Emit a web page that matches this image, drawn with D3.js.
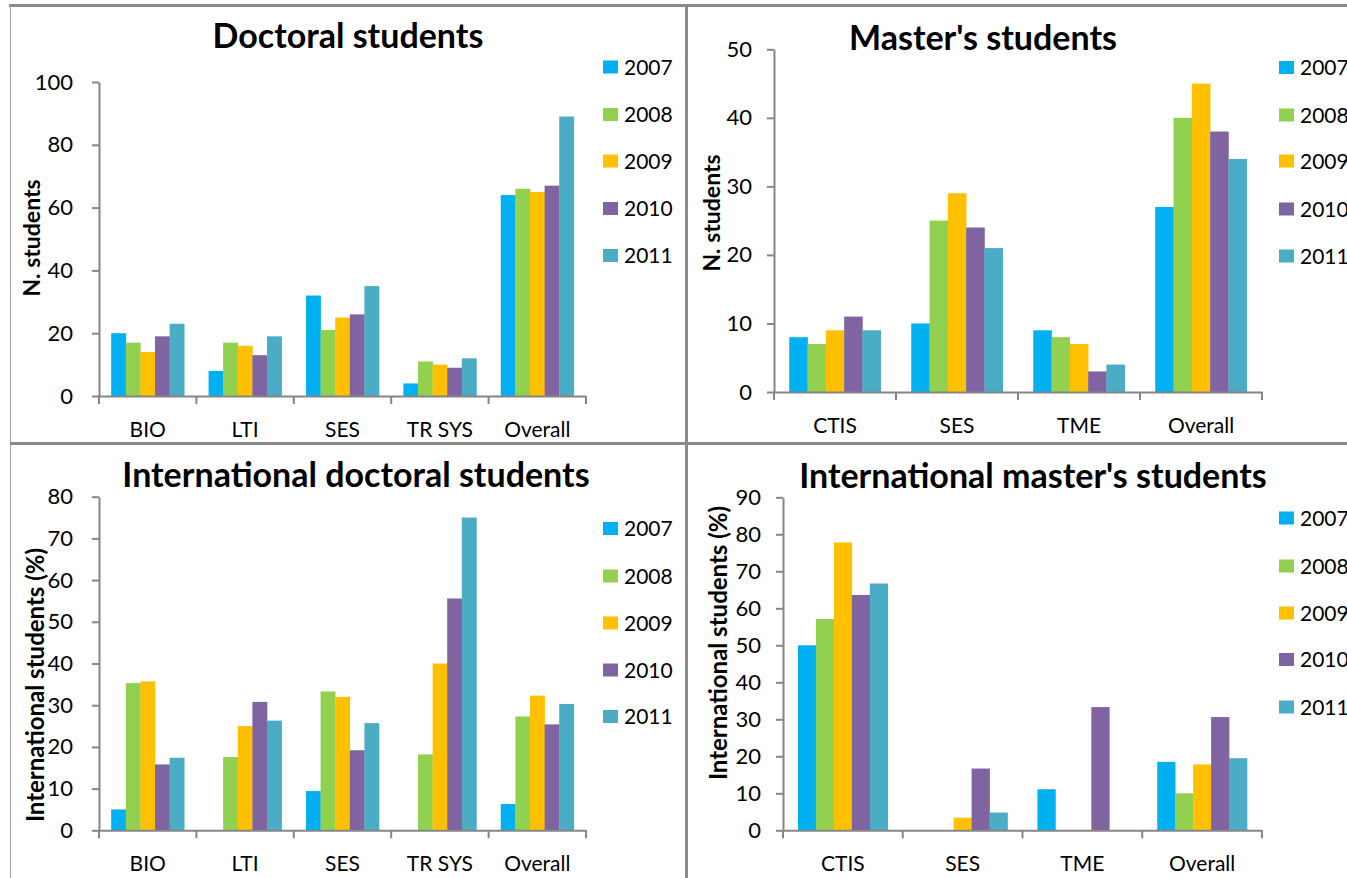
<!DOCTYPE html>
<html>
<head>
<meta charset="utf-8">
<script src="https://cdn.jsdelivr.net/npm/d3@7/dist/d3.min.js"></script>
<style>
  html, body { margin: 0; padding: 0; background: #fff; }
  svg { display: block; }
  text { font-family: Lato, "Open Sans", sans-serif; fill: #000; }
</style>
</head>
<body>
<svg id="chart" width="1347" height="878"></svg>
<script>
// Series shared by all four panels
const years = ["2007", "2008", "2009", "2010", "2011"];

// Doctoral students (head count), one row per programme
const doctoralCategories = ["BIO", "LTI", "SES", "TR SYS", "Overall"];
const doctoralCounts = [
  [20, 17, 14, 19, 23],
  [8, 17, 16, 13, 19],
  [32, 21, 25, 26, 35],
  [4, 11, 10, 9, 12],
  [64, 66, 65, 67, 89]
];
const doctoralTicks = [0, 20, 40, 60, 80, 100];

// Master's students (head count)
const masterCategories = ["CTIS", "SES", "TME", "Overall"];
const masterCounts = [
  [8, 7, 9, 11, 9],
  [10, 25, 29, 24, 21],
  [9, 8, 7, 3, 4],
  [27, 40, 45, 38, 34]
];
const masterTicks = [0, 10, 20, 30, 40, 50];

// Share of international doctoral students (%)
const intlDoctoralPct = [
  [5.0, 35.3, 35.7, 15.8, 17.4],
  [0, 17.6, 25.0, 30.8, 26.3],
  [9.4, 33.3, 32.0, 19.2, 25.7],
  [0, 18.2, 40.0, 55.6, 75.0],
  [6.3, 27.3, 32.3, 25.4, 30.3]
];
const intlDoctoralTicks = [0, 10, 20, 30, 40, 50, 60, 70, 80];

// Share of international master's students (%)
const intlMasterPct = [
  [50.0, 57.1, 77.8, 63.6, 66.7],
  [0, 0, 3.4, 16.7, 4.8],
  [11.1, 0, 0, 33.3, 0],
  [18.5, 10.0, 17.8, 30.6, 19.5]
];
const intlMasterTicks = [0, 10, 20, 30, 40, 50, 60, 70, 80, 90];

const seriesColors = ["#00B0F0", "#92D050", "#FFC000", "#8064A2", "#4BACC6"];
const axisColor = "#868686";

const svg = d3.select("#chart");
svg.append("rect").attr("width", 1347).attr("height", 878).attr("fill", "#fff");

// Panel frames
const frame = svg.append("g").attr("stroke", "#8a8a8a");
frame.append("line").attr("x1", 9).attr("x2", 1347).attr("y1", 5.5).attr("y2", 5.5).attr("stroke-width", 3);
frame.append("line").attr("x1", 10.5).attr("x2", 10.5).attr("y1", 5).attr("y2", 878).attr("stroke-width", 1).attr("stroke", "#a6a6a6");
frame.append("line").attr("x1", 686.5).attr("x2", 686.5).attr("y1", 5).attr("y2", 878).attr("stroke-width", 3);
frame.append("line").attr("x1", 10).attr("x2", 1347).attr("y1", 443.5).attr("y2", 443.5).attr("stroke-width", 3);

const panels = [
  {
    title: "Doctoral students", yLabel: "N. students", labelSize: 23,
    categories: doctoralCategories, values: doctoralCounts, ticks: doctoralTicks,
    axisX: 99, axisEnd: 586, yTop: 82, yZero: 396, tickPad: 19,
    titleX: 348, titleY: 48, labelX: 40, labelY: 238,
    legendX: 603, legendY: [67, 114.5, 161, 208.5, 255.5]
  },
  {
    title: "Master's students", yLabel: "N. students", labelSize: 23,
    categories: masterCategories, values: masterCounts, ticks: masterTicks,
    axisX: 774, axisEnd: 1262, yTop: 49.3, yZero: 392, tickPad: 15,
    titleX: 983, titleY: 50, labelX: 720, labelY: 213,
    legendX: 1279, legendY: [67.5, 115, 161, 209, 256]
  },
  {
    title: "International doctoral students", yLabel: "International students (%)", labelSize: 24,
    categories: doctoralCategories, values: intlDoctoralPct, ticks: intlDoctoralTicks,
    axisX: 99, axisEnd: 586, yTop: 496.7, yZero: 830.3, tickPad: 19,
    titleX: 356, titleY: 487, labelX: 44, labelY: 685,
    legendX: 603, legendY: [528.5, 576, 623, 670, 716.5]
  },
  {
    title: "International master's students", yLabel: "International students (%)", labelSize: 24,
    categories: masterCategories, values: intlMasterPct, ticks: intlMasterTicks,
    axisX: 783, axisEnd: 1262, yTop: 497.3, yZero: 830.3, tickPad: 15,
    titleX: 1033, titleY: 488, labelX: 727, labelY: 643,
    legendX: 1279, legendY: [518, 566, 613, 659.5, 707]
  }
];

panels.forEach(p => {
  const g = svg.append("g");
  const maxTick = p.ticks[p.ticks.length - 1];

  const x0 = d3.scaleBand().domain(p.categories).range([p.axisX, p.axisEnd]).padding(0);
  const bw = x0.bandwidth();
  const x1 = d3.scaleBand().domain(years).range([bw * 0.125, bw * 0.875]).padding(0);
  const y = d3.scaleLinear().domain([0, maxTick]).range([p.yZero, p.yTop]);

  // Bars
  const groups = g.append("g").selectAll("g")
    .data(p.categories)
    .join("g")
    .attr("transform", c => `translate(${x0(c)},0)`);
  groups.selectAll("rect")
    .data((c, i) => p.values[i].map((v, j) => ({ year: years[j], value: v, k: j })))
    .join("rect")
    .attr("x", d => x1(d.year))
    .attr("width", x1.bandwidth() + 0.3)
    .attr("y", d => y(d.value))
    .attr("height", d => y(0) - y(d.value))
    .attr("fill", d => seriesColors[d.k]);

  // Value axis
  const yAxis = g.append("g")
    .attr("transform", `translate(${p.axisX},0)`)
    .call(d3.axisLeft(y).tickValues(p.ticks).tickSize(7).tickSizeOuter(0).tickPadding(p.tickPad).tickFormat(d3.format("d")));
  yAxis.select(".domain").attr("stroke", axisColor).attr("stroke-width", 2);
  yAxis.selectAll(".tick line").attr("stroke", axisColor).attr("stroke-width", 2);
  yAxis.selectAll(".tick text").attr("font-size", 22).attr("font-family", "Lato").attr("fill", "#000");

  // Category axis with labels
  const xAxis = g.append("g")
    .attr("transform", `translate(0,${p.yZero})`)
    .call(d3.axisBottom(x0).tickSize(0).tickPadding(26));
  xAxis.select(".domain").attr("stroke", axisColor).attr("stroke-width", 2);
  xAxis.selectAll(".tick text").attr("font-size", 21).attr("font-family", "Lato").attr("fill", "#000");

  // Category separators
  const bounds = p.categories.map(c => x0(c)).concat([x0.range()[1]]);
  g.append("g").selectAll("line")
    .data(bounds)
    .join("line")
    .attr("x1", d => d).attr("x2", d => d)
    .attr("y1", p.yZero).attr("y2", p.yZero + 8)
    .attr("stroke", axisColor).attr("stroke-width", 2);

  // Title
  g.append("text")
    .attr("x", p.titleX).attr("y", p.titleY)
    .attr("text-anchor", "middle")
    .attr("font-size", 34).attr("font-weight", "bold")
    .text(p.title);

  // Value axis label
  g.append("text")
    .attr("transform", `translate(${p.labelX},${p.labelY}) rotate(-90)`)
    .attr("text-anchor", "middle")
    .attr("font-size", p.labelSize).attr("font-weight", "bold")
    .text(p.yLabel);

  // Legend
  const leg = g.append("g").selectAll("g")
    .data(years)
    .join("g")
    .attr("transform", (d, i) => `translate(${p.legendX},${p.legendY[i]})`);
  leg.append("rect")
    .attr("x", 0).attr("y", -6.5).attr("width", 15).attr("height", 13)
    .attr("fill", (d, i) => seriesColors[i]);
  leg.append("text")
    .attr("x", 21).attr("y", 0).attr("dy", "0.36em")
    .attr("font-size", 21)
    .text(d => d);
});
</script>
</body>
</html>
